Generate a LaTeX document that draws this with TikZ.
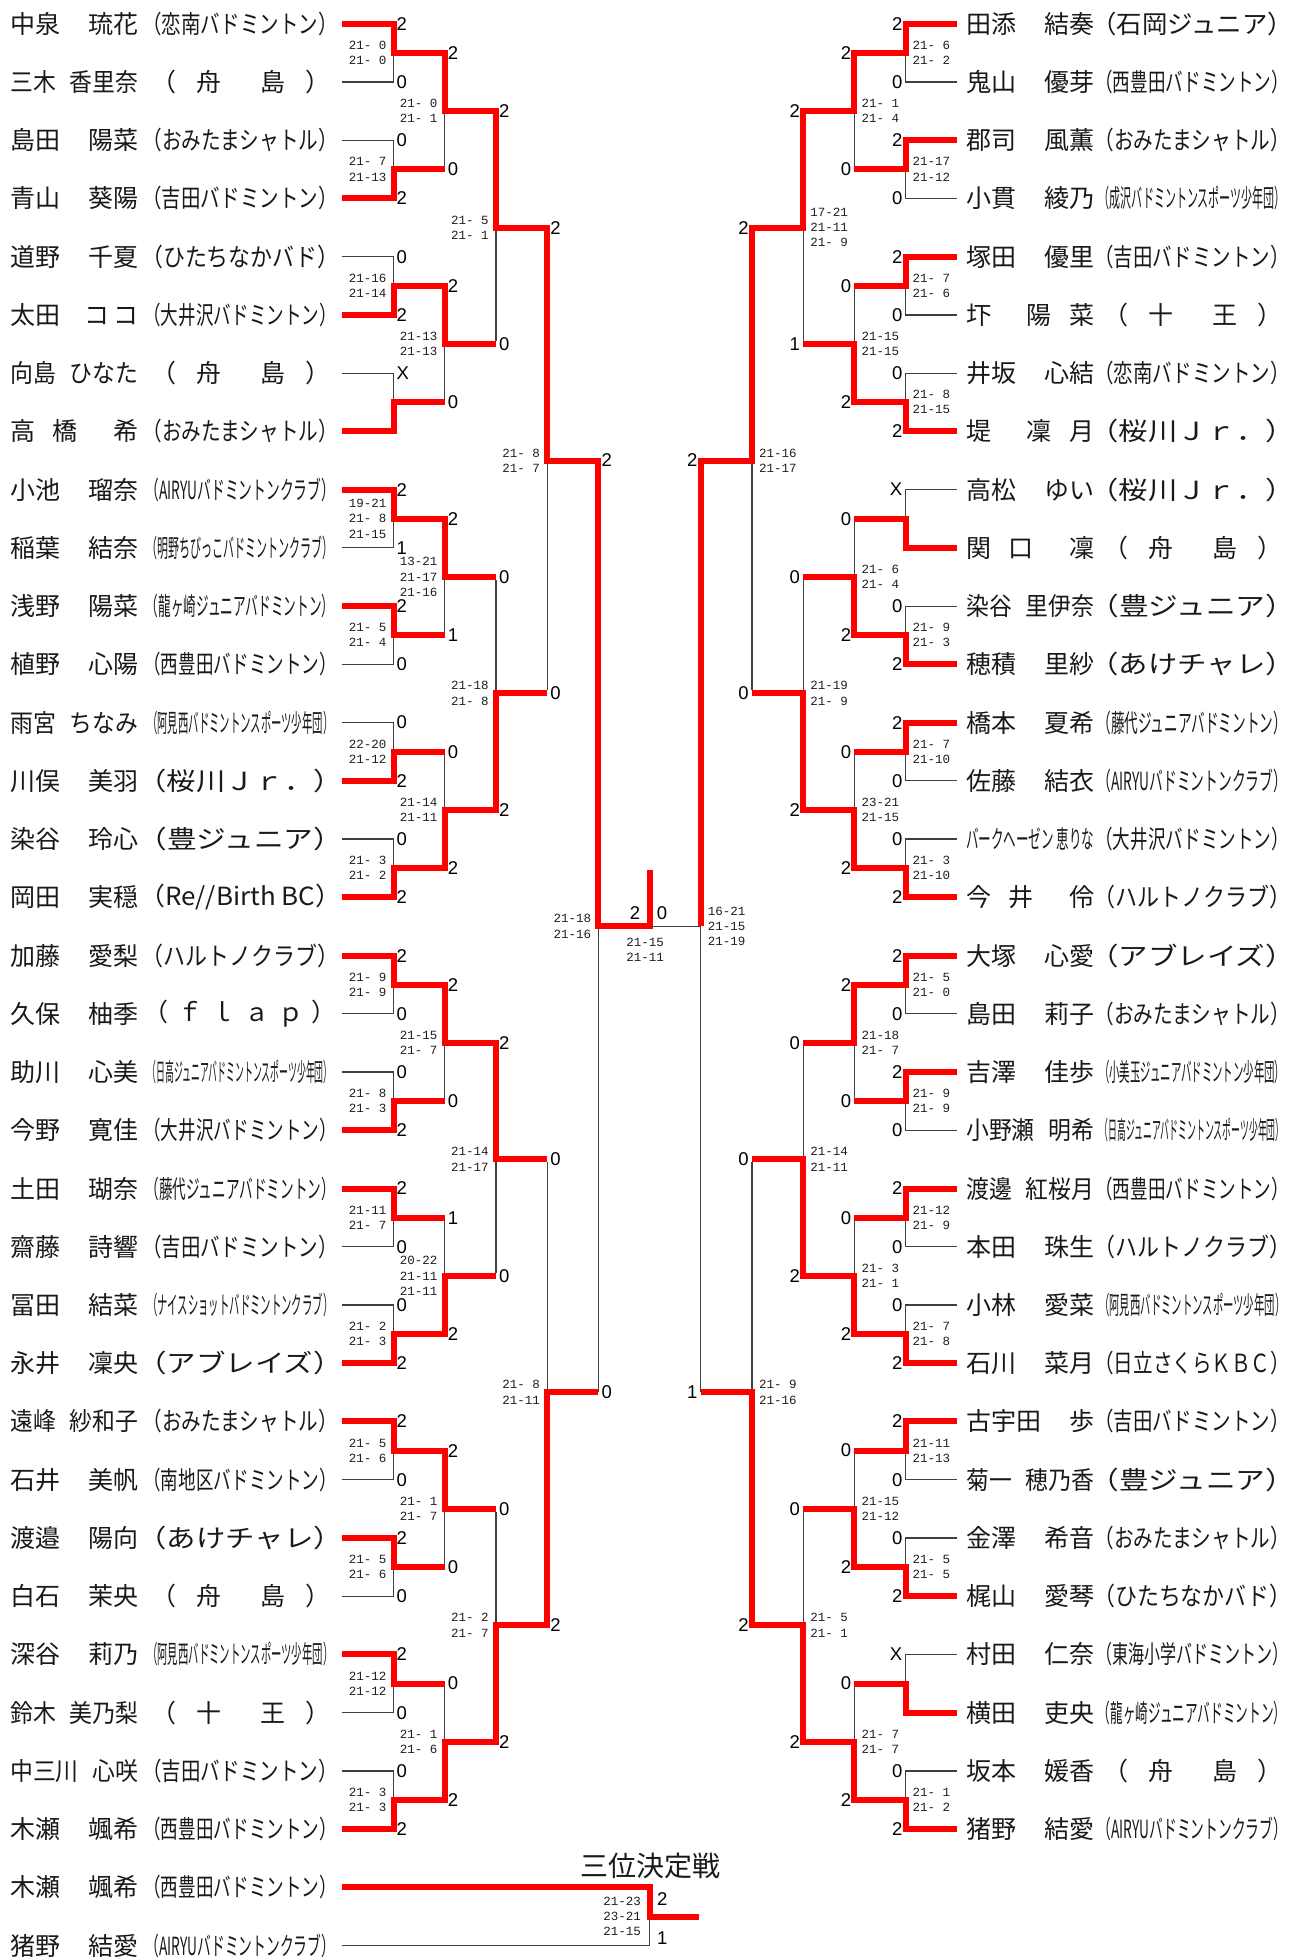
\documentclass[tikz,border=0pt]{standalone}
\usepackage{fontspec}
\usepackage{graphicx}
\newfontfamily\jpf{Noto Sans CJK JP}
\newfontfamily\cntf{Liberation Sans}
\newfontfamily\scf{Liberation Mono}
\newcommand\zz{\phantom{0}}
\newcommand\NM[2]{\makebox[128pt][s]{#1\hfill #2}}
\newcommand\NMs[2]{\resizebox{128pt}{\height}{#1\hspace{0.6em}#2}}
\newcommand\CL[1]{\resizebox{176pt}{\height}{\kern-0.5em（#1）\kern-0.5em}}
\newcommand\CS[2]{\hspace*{12pt}\makebox[154pt][s]{\kern-0.5em（\hfill #1\hfill\hfill #2\hfill ）\kern-0.5em}}
\tikzset{
 win/.style={line width=6pt, red, line join=miter},
 lose/.style={line width=1.2pt, black!75},
 cnt/.style={font=\cntf\fontsize{18.5}{18.5}\selectfont, inner sep=0pt},
 score/.style={font=\scf\fontsize{12.5}{15.2}\selectfont, text=black!88, inner sep=0pt},
 nm/.style={font=\jpf\fontsize{25}{25}\selectfont, inner sep=0pt, anchor=west, text=black!90},
}
\newcommand\Lname[3]{%
  \pgfmathsetmacro\bkyy{23.7+(#1-1)*58.24}%
  \node[nm] (Ln#1) at (10,\bkyy) {#2};
  \node[nm] (Lk#1) at (152,\bkyy) {#3};}
\newcommand\Rname[3]{%
  \pgfmathsetmacro\bkyy{23.7+(#1-1)*58.24}%
  \node[nm] (Rn#1) at (966,\bkyy) {#2};
  \node[nm] (Rk#1) at (1104,\bkyy) {#3};}
\newcommand\match[7]{%
  \if#1L\def\bksd{1}\def\bklan{west}\def\bksan{east}\def\bksal{right}%
  \else\def\bksd{-1}\def\bklan{east}\def\bksan{west}\def\bksal{left}\fi
  \pgfmathsetmacro\bkxp{649.5-\bksd*(7-#2)*51.2}%
  \pgfmathsetmacro\bkxk{649.5-\bksd*(6-#2)*51.2}%
  \pgfmathsetmacro\bkxn{649.5-\bksd*(5-#2)*51.2}%
  \pgfmathsetmacro\bknn{2^(#2-1)}%
  \pgfmathsetmacro\bkyt{23.7+((#3-1)*2*\bknn+(\bknn-1)/2)*58.24}%
  \pgfmathsetmacro\bkyb{\bkyt+\bknn*58.24}%
  \pgfmathsetmacro\bkym{(\bkyt+\bkyb)/2}%
  \if#4t\let\bkyw\bkyt\let\bkyl\bkyb\else\let\bkyw\bkyb\let\bkyl\bkyt\fi
  \pgfmathsetmacro\bkylo{\bkyl+3*sign(\bkym-\bkyl)}%
  \ifnum#2=1 \draw[lose] (\bkxp,\bkyl) -- (\bkxk,\bkyl) -- (\bkxk,\bkym);%
  \else \draw[lose] (\bkxk,\bkylo) -- (\bkxk,\bkym);\fi
  \draw[win] (\bkxp,\bkyw) -- (\bkxk,\bkyw) -- (\bkxk,\bkym) -- (\bkxn,\bkym);
  \pgfmathsetmacro\bkxl{\bkxk+\bksd*3}%
  \pgfmathsetmacro\bkxs{\bkxk-\bksd*7}%
  \node[cnt,anchor=\bklan] (#1c#2-#3t) at (\bkxl,\bkyt) {#5};
  \node[cnt,anchor=\bklan] (#1c#2-#3b) at (\bkxl,\bkyb) {#6};
  \node[score,anchor=\bksan,align=\bksal] (#1s#2-#3) at (\bkxs,\bkym) {#7};
}
\begin{document}
\begin{tikzpicture}[x=1pt,y=-1pt]
\fill[white] (0,0) rectangle (1305,1957);
\useasboundingbox (0,0) rectangle (1305,1957);
% ---------------- left names
\Lname{1}{\NM{中泉}{琉花}}{\CL{恋南バドミントン}}
\Lname{2}{\NMs{三木}{香里奈}}{\CS{舟}{島}}
\Lname{3}{\NM{島田}{陽菜}}{\CL{おみたまシャトル}}
\Lname{4}{\NM{青山}{葵陽}}{\CL{吉田バドミントン}}
\Lname{5}{\NM{道野}{千夏}}{\CL{ひたちなかバド}}
\Lname{6}{\NM{太田}{コ\hspace{4pt}コ}}{\CL{大井沢バドミントン}}
\Lname{7}{\NMs{向島}{ひなた}}{\CS{舟}{島}}
\Lname{8}{\makebox[128pt][s]{高\hfill 橋\hfill\hfill 希}}{\CL{おみたまシャトル}}
\Lname{9}{\NM{小池}{瑠奈}}{\CL{AIRYUバドミントンクラブ}}
\Lname{10}{\NM{稲葉}{結奈}}{\CL{明野ちびっこバドミントンクラブ}}
\Lname{11}{\NM{浅野}{陽菜}}{\CL{龍ヶ崎ジュニアバドミントン}}
\Lname{12}{\NM{植野}{心陽}}{\CL{西豊田バドミントン}}
\Lname{13}{\NMs{雨宮}{ちなみ}}{\CL{阿見西バドミントンスポーツ少年団}}
\Lname{14}{\NM{川俣}{美羽}}{\CL{桜川Ｊｒ．}}
\Lname{15}{\NM{染谷}{玲心}}{\CL{豊ジュニア}}
\Lname{16}{\NM{岡田}{実穏}}{\CL{Re//Birth BC}}
\Lname{17}{\NM{加藤}{愛梨}}{\CL{ハルトノクラブ}}
\Lname{18}{\NM{久保}{柚季}}{\hspace*{4pt}\makebox[168pt][s]{\kern-0.5em（\hfill ｆ\hfill ｌ\hfill ａ\hfill ｐ\hfill ）\kern-0.5em}}
\Lname{19}{\NM{助川}{心美}}{\CL{日高ジュニアバドミントンスポーツ少年団}}
\Lname{20}{\NM{今野}{寛佳}}{\CL{大井沢バドミントン}}
\Lname{21}{\NM{土田}{瑚奈}}{\CL{藤代ジュニアバドミントン}}
\Lname{22}{\NM{齋藤}{詩響}}{\CL{吉田バドミントン}}
\Lname{23}{\NM{冨田}{結菜}}{\CL{ナイスショットバドミントンクラブ}}
\Lname{24}{\NM{永井}{凜央}}{\CL{アブレイズ}}
\Lname{25}{\NMs{遠峰}{紗和子}}{\CL{おみたまシャトル}}
\Lname{26}{\NM{石井}{美帆}}{\CL{南地区バドミントン}}
\Lname{27}{\NM{渡邉}{陽向}}{\CL{あけチャレ}}
\Lname{28}{\NM{白石}{茉央}}{\CS{舟}{島}}
\Lname{29}{\NM{深谷}{莉乃}}{\CL{阿見西バドミントンスポーツ少年団}}
\Lname{30}{\NMs{鈴木}{美乃梨}}{\CS{十}{王}}
\Lname{31}{\NMs{中三川}{心咲}}{\CL{吉田バドミントン}}
\Lname{32}{\NM{木瀬}{颯希}}{\CL{西豊田バドミントン}}
\Lname{33}{\NM{木瀬}{颯希}}{\CL{西豊田バドミントン}}
\Lname{34}{\NM{猪野}{結愛}}{\CL{AIRYUバドミントンクラブ}}
% ---------------- right names
\Rname{1}{\NM{田添}{結奏}}{\CL{石岡ジュニア}}
\Rname{2}{\NM{鬼山}{優芽}}{\CL{西豊田バドミントン}}
\Rname{3}{\NM{郡司}{風薫}}{\CL{おみたまシャトル}}
\Rname{4}{\NM{小貫}{綾乃}}{\CL{成沢バドミントンスポーツ少年団}}
\Rname{5}{\NM{塚田}{優里}}{\CL{吉田バドミントン}}
\Rname{6}{\makebox[128pt][s]{圷\hfill\hfill 陽\hfill 菜}}{\CS{十}{王}}
\Rname{7}{\NM{井坂}{心結}}{\CL{恋南バドミントン}}
\Rname{8}{\makebox[128pt][s]{堤\hfill\hfill 凜\hfill 月}}{\CL{桜川Ｊｒ．}}
\Rname{9}{\NM{高松}{ゆい}}{\CL{桜川Ｊｒ．}}
\Rname{10}{\makebox[128pt][s]{関\hfill 口\hfill\hfill 凜}}{\CS{舟}{島}}
\Rname{11}{\NMs{染谷}{里伊奈}}{\CL{豊ジュニア}}
\Rname{12}{\NM{穂積}{里紗}}{\CL{あけチャレ}}
\Rname{13}{\NM{橋本}{夏希}}{\CL{藤代ジュニアバドミントン}}
\Rname{14}{\NM{佐藤}{結衣}}{\CL{AIRYUバドミントンクラブ}}
\Rname{15}{\resizebox{128pt}{\height}{バークヘーゼン 恵りな}}{\CL{大井沢バドミントン}}
\Rname{16}{\makebox[128pt][s]{今\hfill 井\hfill\hfill 伶}}{\CL{ハルトノクラブ}}
\Rname{17}{\NM{大塚}{心愛}}{\CL{アブレイズ}}
\Rname{18}{\NM{島田}{莉子}}{\CL{おみたまシャトル}}
\Rname{19}{\NM{吉澤}{佳歩}}{\CL{小美玉ジュニアバドミントン少年団}}
\Rname{20}{\NMs{小野瀬}{明希}}{\CL{日高ジュニアバドミントンスポーツ少年団}}
\Rname{21}{\NMs{渡邊}{紅桜月}}{\CL{西豊田バドミントン}}
\Rname{22}{\NM{本田}{珠生}}{\CL{ハルトノクラブ}}
\Rname{23}{\NM{小林}{愛菜}}{\CL{阿見西バドミントンスポーツ少年団}}
\Rname{24}{\NM{石川}{菜月}}{\CL{日立さくらＫＢＣ}}
\Rname{25}{\NM{古宇田}{歩}}{\CL{吉田バドミントン}}
\Rname{26}{\NMs{菊一}{穂乃香}}{\CL{豊ジュニア}}
\Rname{27}{\NM{金澤}{希音}}{\CL{おみたまシャトル}}
\Rname{28}{\NM{梶山}{愛琴}}{\CL{ひたちなかバド}}
\Rname{29}{\NM{村田}{仁奈}}{\CL{東海小学バドミントン}}
\Rname{30}{\NM{横田}{吏央}}{\CL{龍ヶ崎ジュニアバドミントン}}
\Rname{31}{\NM{坂本}{媛香}}{\CS{舟}{島}}
\Rname{32}{\NM{猪野}{結愛}}{\CL{AIRYUバドミントンクラブ}}
% ---------------- left bracket
\match{L}{1}{1}{t}{2}{0}{21-\zz0\\21-\zz0}
\match{L}{1}{2}{b}{0}{2}{21-\zz7\\21-13}
\match{L}{1}{3}{b}{0}{2}{21-16\\21-14}
\match{L}{1}{4}{b}{X}{}{}
\match{L}{1}{5}{t}{2}{1}{19-21\\21-\zz8\\21-15}
\match{L}{1}{6}{t}{2}{0}{21-\zz5\\21-\zz4}
\match{L}{1}{7}{b}{0}{2}{22-20\\21-12}
\match{L}{1}{8}{b}{0}{2}{21-\zz3\\21-\zz2}
\match{L}{1}{9}{t}{2}{0}{21-\zz9\\21-\zz9}
\match{L}{1}{10}{b}{0}{2}{21-\zz8\\21-\zz3}
\match{L}{1}{11}{t}{2}{0}{21-11\\21-\zz7}
\match{L}{1}{12}{b}{0}{2}{21-\zz2\\21-\zz3}
\match{L}{1}{13}{t}{2}{0}{21-\zz5\\21-\zz6}
\match{L}{1}{14}{t}{2}{0}{21-\zz5\\21-\zz6}
\match{L}{1}{15}{t}{2}{0}{21-12\\21-12}
\match{L}{1}{16}{b}{0}{2}{21-\zz3\\21-\zz3}
\match{L}{2}{1}{t}{2}{0}{21-\zz0\\21-\zz1}
\match{L}{2}{2}{t}{2}{0}{21-13\\21-13}
\match{L}{2}{3}{t}{2}{1}{13-21\\21-17\\21-16}
\match{L}{2}{4}{b}{0}{2}{21-14\\21-11}
\match{L}{2}{5}{t}{2}{0}{21-15\\21-\zz7}
\match{L}{2}{6}{b}{1}{2}{20-22\\21-11\\21-11}
\match{L}{2}{7}{t}{2}{0}{21-\zz1\\21-\zz7}
\match{L}{2}{8}{b}{0}{2}{21-\zz1\\21-\zz6}
\match{L}{3}{1}{t}{2}{0}{21-\zz5\\21-\zz1}
\match{L}{3}{2}{b}{0}{2}{21-18\\21-\zz8}
\match{L}{3}{3}{t}{2}{0}{21-14\\21-17}
\match{L}{3}{4}{b}{0}{2}{21-\zz2\\21-\zz7}
\match{L}{4}{1}{t}{2}{0}{21-\zz8\\21-\zz7}
\match{L}{4}{2}{b}{0}{2}{21-\zz8\\21-11}
% ---------------- right bracket
\match{R}{1}{1}{t}{2}{0}{21-\zz6\\21-\zz2}
\match{R}{1}{2}{t}{2}{0}{21-17\\21-12}
\match{R}{1}{3}{t}{2}{0}{21-\zz7\\21-\zz6}
\match{R}{1}{4}{b}{0}{2}{21-\zz8\\21-15}
\match{R}{1}{5}{b}{X}{}{}
\match{R}{1}{6}{b}{0}{2}{21-\zz9\\21-\zz3}
\match{R}{1}{7}{t}{2}{0}{21-\zz7\\21-10}
\match{R}{1}{8}{b}{0}{2}{21-\zz3\\21-10}
\match{R}{1}{9}{t}{2}{0}{21-\zz5\\21-\zz0}
\match{R}{1}{10}{t}{2}{0}{21-\zz9\\21-\zz9}
\match{R}{1}{11}{t}{2}{0}{21-12\\21-\zz9}
\match{R}{1}{12}{b}{0}{2}{21-\zz7\\21-\zz8}
\match{R}{1}{13}{t}{2}{0}{21-11\\21-13}
\match{R}{1}{14}{b}{0}{2}{21-\zz5\\21-\zz5}
\match{R}{1}{15}{b}{X}{}{}
\match{R}{1}{16}{b}{0}{2}{21-\zz1\\21-\zz2}
\match{R}{2}{1}{t}{2}{0}{21-\zz1\\21-\zz4}
\match{R}{2}{2}{b}{0}{2}{21-15\\21-15}
\match{R}{2}{3}{b}{0}{2}{21-\zz6\\21-\zz4}
\match{R}{2}{4}{b}{0}{2}{23-21\\21-15}
\match{R}{2}{5}{t}{2}{0}{21-18\\21-\zz7}
\match{R}{2}{6}{b}{0}{2}{21-\zz3\\21-\zz1}
\match{R}{2}{7}{b}{0}{2}{21-15\\21-12}
\match{R}{2}{8}{b}{0}{2}{21-\zz7\\21-\zz7}
\match{R}{3}{1}{t}{2}{1}{17-21\\21-11\\21-\zz9}
\match{R}{3}{2}{b}{0}{2}{21-19\\21-\zz9}
\match{R}{3}{3}{b}{0}{2}{21-14\\21-11}
\match{R}{3}{4}{b}{0}{2}{21-\zz5\\21-\zz1}
\match{R}{4}{1}{t}{2}{0}{21-16\\21-17}
\match{R}{4}{2}{b}{0}{2}{21-\zz9\\21-16}
% ---------------- semifinals and final
\pgfmathsetmacro\Ytop{23.7+7.5*58.24}
\pgfmathsetmacro\Ybot{23.7+23.5*58.24}
\pgfmathsetmacro\Ymid{(\Ytop+\Ybot)/2}
\coordinate (champ) at (649.5,870);
\draw[lose] (598.3,\Ybot) -- (598.3,\Ymid);
\draw[win] (547.1,\Ytop) -- (598.3,\Ytop) -- (598.3,\Ymid) -- (649.5,\Ymid) -- (champ);
\node[cnt,anchor=west] (Lc5t) at (601.3,\Ytop) {2};
\node[cnt,anchor=west] (Lc5b) at (601.3,\Ybot) {0};
\node[score,anchor=east,align=right] (Ls5) at (591.3,\Ymid) {21-18\\21-16};
\draw[lose] (700.7,\Ybot) -- (700.7,\Ymid) -- (649.5,\Ymid);
\draw[win] (751.9,\Ytop) -- (700.7,\Ytop) -- (700.7,\Ymid);
\node[cnt,anchor=east] (Rc5t) at (697.7,\Ytop) {2};
\node[cnt,anchor=east] (Rc5b) at (697.7,\Ybot) {1};
\node[score,anchor=west,align=left] (Rs5) at (707.7,\Ymid) {16-21\\21-15\\21-19};
\node[cnt] (F2) at (635,913) {2};
\node[cnt] (F0) at (662,913) {0};
\node[score,align=center] (Fs) at (645,950) {21-15\\21-11};
% ---------------- third place
\pgfmathsetmacro\Ya{23.7+32*58.24}
\pgfmathsetmacro\Yb{23.7+33*58.24}
\pgfmathsetmacro\Ym{(\Ya+\Yb)/2}
\coordinate (third) at (699,\Ym);
\draw[lose] (342.3,\Yb) -- (649.5,\Yb) -- (649.5,\Ym);
\draw[win] (342.3,\Ya) -- (649.5,\Ya) -- (649.5,\Ym) -- (third);
\node[cnt,anchor=west] (Tc2) at (657,1899) {2};
\node[cnt,anchor=west] (Tc1) at (657,1938) {1};
\node[score,anchor=east,align=right] (Ts) at (641,\Ym) {21-23\\23-21\\21-15};
\node[font=\jpf\fontsize{28}{28}\selectfont, inner sep=0pt, text=black!90] (T3) at (650,1866) {三位決定戦};
\end{tikzpicture}
\end{document}
